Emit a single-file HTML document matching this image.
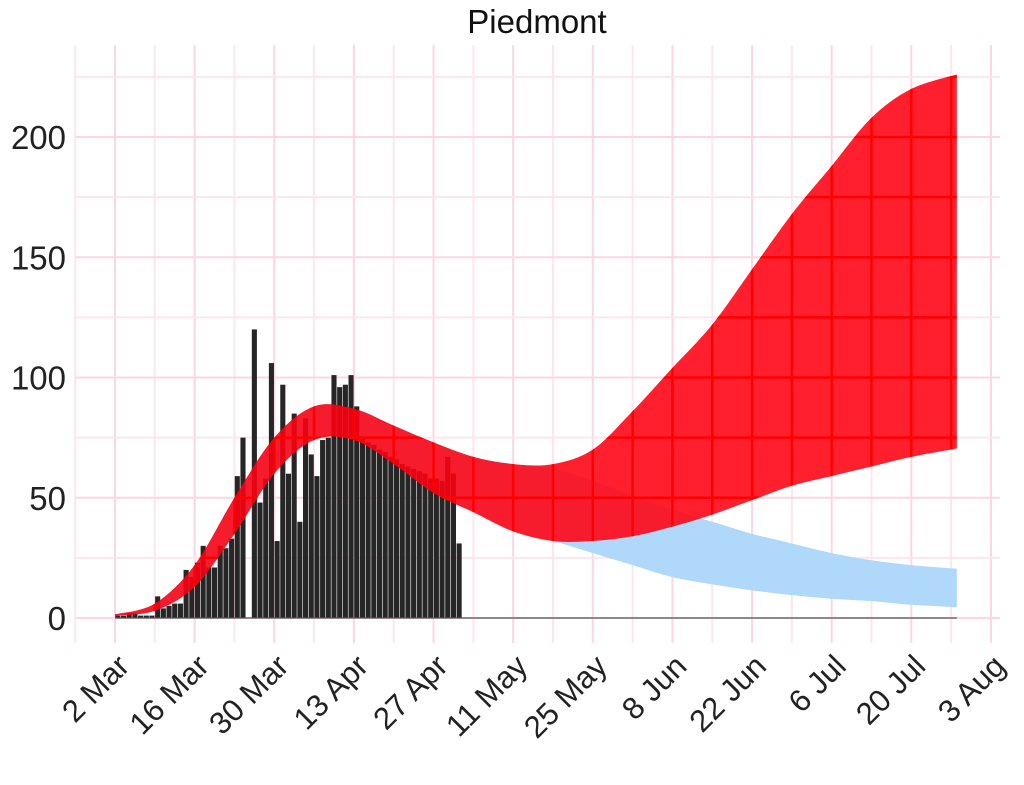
<!DOCTYPE html>
<html><head><meta charset="utf-8"><style>
html,body{margin:0;padding:0;background:#fff;}
svg{display:block;font-family:"Liberation Sans",Arial,sans-serif;}
</style></head><body>
<svg id="chart" width="1024" height="785" viewBox="0 0 1024 785">
<defs><clipPath id="redclip"><path id="redclipPath" d=""/></clipPath></defs>
<text x="537" y="33" font-size="33" text-anchor="middle" fill="#111">Piedmont</text>
<g id="grid"></g>
<g id="blueg"></g>
<g id="bars"></g>
<g id="redg"></g>
<g id="redgrid" clip-path="url(#redclip)"></g>
<g id="axes"></g>
</svg>
<script>
const barValues=[1,1,2,2,1,1,1,9,4,5,6,6,20,17,23,30,21,21,30,29,33,59,75,0,120,48,58,106,32,97,60,85,40,83,68,59,74,75,101,96,97,101,88,75,73,72,70,69,67,66,64,63,62,61,60,58,58,57,67,60,31];
const bandDays=[0,7,14,21,28,35,42,49,56,63,70,77,84,91,98,105,112,119,126,133,140,148];
const redUpper=[1.5,6,22,50,75,88,87,80,73,67,64,64,70,86,104,122,145,168,188,208,220,226];
const redLower=[1,3,13,35,60,74,74,64,52,44,36,32,32,34,38,43,49,55,59,63,67,70.5];
const blueUpper=[1.5,6,22,50,75,88,87,80,73,67,64,62,57,51,45,40,35,31,27,24,22,20.5];
const blueLower=[1,3,13,35,60,74,74,64,52,44,36,32,27,22,17,14,11.5,9.5,8,7,5.5,4.5];
const yTicks=[0,50,100,150,200];
const xTickLabels=["2 Mar","16 Mar","30 Mar","13 Apr","27 Apr","11 May","25 May","8 Jun","22 Jun","6 Jul","20 Jul","3 Aug"];

const NS="http://www.w3.org/2000/svg";
const X0=115, PXD=5.688, Y0=618, PXV=2.405;
const xs=d=>X0+d*PXD, ys=v=>Y0-v*PXV;
function mk(tag,attrs,parent){const e=document.createElementNS(NS,tag);for(const k in attrs)e.setAttribute(k,attrs[k]);parent.appendChild(e);return e;}
const grid=document.getElementById('grid'),blueg=document.getElementById('blueg'),bars=document.getElementById('bars'),redg=document.getElementById('redg'),redgrid=document.getElementById('redgrid'),axes=document.getElementById('axes');

for(let d=-7;d<=154;d+=7){
  const g=mk('line',{x1:xs(d),x2:xs(d),y1:45,y2:643,stroke:d%14===0?'#fcd6e2':'#fde6ee','stroke-width':2},grid);
  
  
  const r=mk('line',{x1:xs(d),x2:xs(d),y1:45,y2:643,stroke:'#ff0000','stroke-width':2.5},redgrid);
  
  
}
for(let v=0;v<=225;v+=25){
  const g=mk('line',{x1:75,x2:1000,y1:ys(v),y2:ys(v),stroke:v%50===0?'#fcd6e2':'#fde6ee','stroke-width':2},grid);
  
  
  const r=mk('line',{x1:75,x2:1000,y1:ys(v),y2:ys(v),stroke:'#ff0000','stroke-width':2.5},redgrid);
  
  
}

function smooth(pts){
  let d=`M${pts[0][0]},${pts[0][1]}`;
  for(let i=0;i<pts.length-1;i++){
    const p0=pts[Math.max(0,i-1)],p1=pts[i],p2=pts[i+1],p3=pts[Math.min(pts.length-1,i+2)];
    const c1=[p1[0]+(p2[0]-p0[0])/6,p1[1]+(p2[1]-p0[1])/6],c2=[p2[0]-(p3[0]-p1[0])/6,p2[1]-(p3[1]-p1[1])/6];
    d+=` C${c1[0]},${c1[1]} ${c2[0]},${c2[1]} ${p2[0]},${p2[1]}`;
  }
  return d;
}
function bandPath(up,lo){
  const top=bandDays.map((d,i)=>[xs(d),ys(up[i])]);
  const bot=bandDays.map((d,i)=>[xs(d),ys(lo[i])]).reverse();
  return smooth(top)+' L'+smooth(bot).slice(1)+' Z';
}
const blue=mk('path',{d:bandPath(blueUpper,blueLower),fill:'#b0d8fa'},blueg);



barValues.forEach((v,i)=>{
  const r=mk('rect',{x:xs(i)+0.3,y:ys(v),width:5.1,height:v*PXV,fill:'#262626'},bars);
  
  
});

const rp=bandPath(redUpper,redLower);
const red=mk('path',{d:rp,fill:'#ff0010','fill-opacity':0.88},redg);


document.getElementById('redclipPath').setAttribute('d',rp);

const base=mk('line',{x1:xs(0),x2:xs(148),y1:Y0,y2:Y0,stroke:'#555','stroke-width':1.2},axes);


yTicks.forEach(v=>{
  const t=mk('text',{x:66,y:ys(v)+12,'font-size':33,'text-anchor':'end',fill:'#222'},axes);
  t.textContent=v;
  
  
});
xTickLabels.forEach((s,i)=>{
  const x=xs(i*14)+16,y=668;
  const t=mk('text',{x:x,y:y,'font-size':31,'text-anchor':'end',fill:'#222',transform:`rotate(-45 ${x} ${y})`},axes);
  t.textContent=s;
  
  
});
</script>
</body></html>
